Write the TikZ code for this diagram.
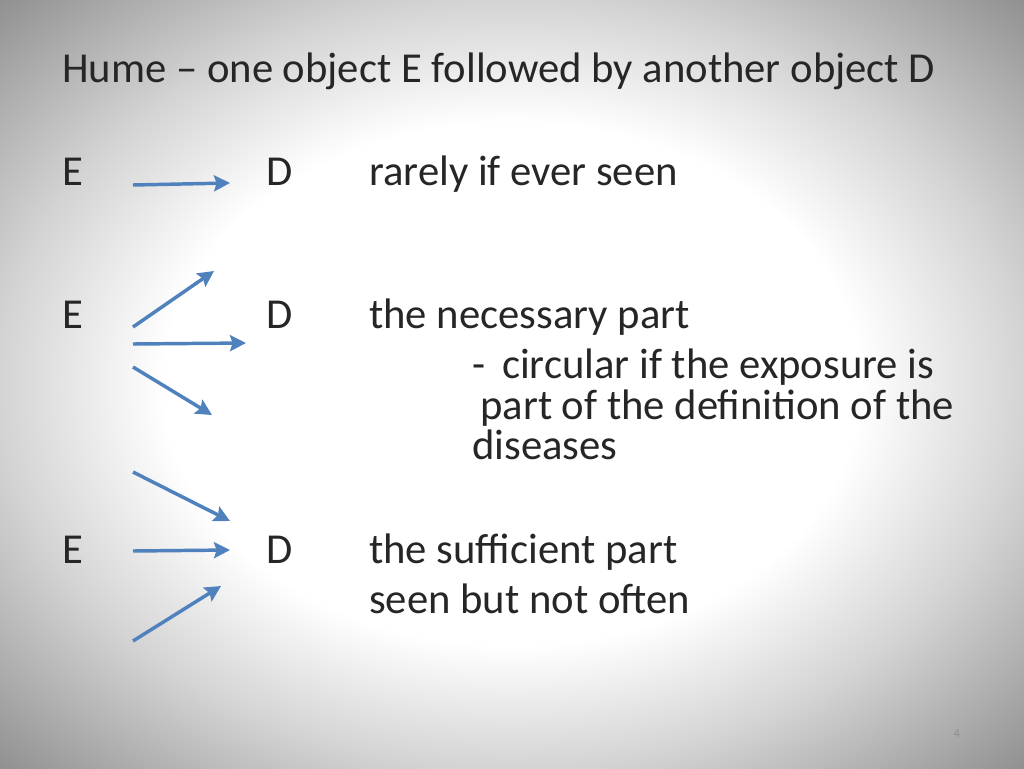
\documentclass[tikz,border=0pt]{standalone}
\usepackage{fontspec}
\setmainfont{Carlito}
\usetikzlibrary{arrows.meta}
\pgfdeclareradialshading{slidebg}{\pgfpoint{0bp}{0bp}}{color(0bp)=(white); color(17bp)=(white); color(25bp)=(black!17); color(36bp)=(black!45); color(50bp)=(black!48)}
\begin{document}
\begin{tikzpicture}[x=0.75pt,y=-0.75pt,
  txt/.style={anchor=base west,inner sep=0pt,font=\fontsize{32}{38}\selectfont,text=black!85},
  arr/.style={draw={rgb,255:red,79;green,129;blue,189},line width=2.6pt,-{Stealth[length=12pt,width=12pt,inset=2pt]}}]
\shade[shading=slidebg] (0,0) rectangle (1024,768);
\useasboundingbox (0,0) rectangle (1024,768);
\node[txt] (title) at (62,82) {Hume – one object E followed by another object D};
\node[txt] (e1) at (62,185) {E};
\node[txt] (d1) at (266,185) {D};
\node[txt] (t1) at (369,185) {rarely if ever seen};
\node[txt] (e2) at (62,328) {E};
\node[txt] (d2) at (266,328) {D};
\node[txt] (t2) at (369,328) {the necessary part};
\node[txt] (t2a) at (472,378) {-\, circular if the exposure is};
\node[txt] (t2b) at (480,419) {part of the definition of the};
\node[txt] (t2c) at (472,459) {diseases};
\node[txt] (e3) at (62,563) {E};
\node[txt] (d3) at (266,563) {D};
\node[txt] (t3) at (369,563) {the sufficient part};
\node[txt] (t3a) at (369,613) {seen but not often};
\node[anchor=base,inner sep=0pt,font=\fontsize{9}{10}\selectfont,text=black!45] (pg) at (957,737) {4};
\coordinate (a1s) at (133,185); \coordinate (a1e) at (230,183);
\coordinate (a2s) at (133,327); \coordinate (a2e) at (214,271);
\coordinate (a3s) at (133,344); \coordinate (a3e) at (246,343);
\coordinate (a4s) at (133,367); \coordinate (a4e) at (212,415);
\coordinate (a5s) at (133,472); \coordinate (a5e) at (230,521);
\coordinate (a6s) at (133,551); \coordinate (a6e) at (230,550);
\coordinate (a7s) at (133,641); \coordinate (a7e) at (221,586);
\foreach \i in {1,...,7} \draw[arr] (a\i s) -- (a\i e);
\end{tikzpicture}
\end{document}
